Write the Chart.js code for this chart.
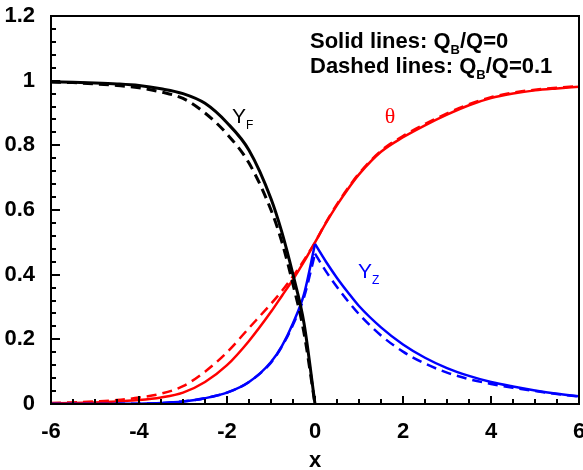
<!DOCTYPE html>
<html>
<head>
<meta charset="utf-8">
<script src="https://cdn.jsdelivr.net/npm/chart.js@4.4.0/dist/chart.umd.min.js"></script>
<style>
  body { margin: 0; background: #fff; }
</style>
</head>
<body>
<canvas id="myChart" width="583" height="470"></canvas>
<script>
// x positions of the sampled points
const xs = [-6, -5.5, -5, -4.5, -4, -3.5, -3, -2.5, -2, -1.5, -1, -0.75, -0.5, -0.25, 0,
  0.25, 0.5, 0.75, 1, 1.5, 2, 2.5, 3, 3.5, 4, 4.5, 5, 5.5, 6];
// index of x = 0 (Y_F stops there, Y_Z has its peak there)
const iZero = 14;

const yfSolid = [0.997, 0.995, 0.993, 0.99, 0.985, 0.975, 0.96, 0.93, 0.87, 0.785, 0.635, 0.53, 0.4, 0.25, 0];
const yfDashed = [0.996, 0.994, 0.99, 0.985, 0.978, 0.965, 0.945, 0.9, 0.835, 0.745, 0.6, 0.5, 0.37, 0.22, 0];

const thetaSolid = [0.002, 0.003, 0.005, 0.008, 0.012, 0.02, 0.035, 0.068, 0.12, 0.195, 0.285, 0.335, 0.385, 0.44, 0.5,
  0.56, 0.615, 0.665, 0.71, 0.78, 0.825, 0.862, 0.895, 0.924, 0.946, 0.96, 0.97, 0.976, 0.981];
const thetaDashed = [0.003, 0.005, 0.008, 0.012, 0.02, 0.032, 0.055, 0.1, 0.16, 0.235, 0.31, 0.35, 0.395, 0.445, 0.5,
  0.562, 0.618, 0.668, 0.713, 0.783, 0.829, 0.866, 0.899, 0.927, 0.949, 0.963, 0.972, 0.978, 0.983];

const yzSolid = [0, 0, 0, 0.0005, 0.001, 0.003, 0.008, 0.018, 0.035, 0.068, 0.13, 0.18, 0.25, 0.34, 0.495,
  0.44, 0.39, 0.345, 0.303, 0.237, 0.184, 0.143, 0.111, 0.087, 0.068, 0.054, 0.042, 0.032, 0.024];
const yzDashed = [0, 0, 0, 0.0005, 0.001, 0.003, 0.008, 0.018, 0.035, 0.068, 0.128, 0.178, 0.245, 0.33, 0.465,
  0.41, 0.362, 0.318, 0.278, 0.212, 0.162, 0.125, 0.097, 0.077, 0.062, 0.05, 0.04, 0.031, 0.023];

const xTicks = [-6, -4, -2, 0, 2, 4, 6];
const yTicks = [0, 0.2, 0.4, 0.6, 0.8, 1, 1.2];

function pts(xv, yv) {
  return xv.map((v, i) => ({ x: v, y: yv[i] }));
}

function line(data, color, dashed, width) {
  return {
    data: data,
    borderColor: color,
    borderWidth: width,
    borderDash: dashed ? [10, 6] : [],
    pointRadius: 0,
    fill: false,
    cubicInterpolationMode: "monotone",
  };
}

// text with a subscript part, e.g. Q_B
function drawParts(ctx, parts, x, y, big, small, family, weight, color) {
  ctx.fillStyle = color;
  ctx.textBaseline = "alphabetic";
  ctx.textAlign = "left";
  let cx = x;
  parts.forEach(function (p) {
    const sub = p[1];
    ctx.font = weight + " " + (sub ? small : big) + "px " + family;
    ctx.fillText(p[0], cx, y + (sub ? 6 : 0));
    cx += ctx.measureText(p[0]).width;
  });
}

const frameAndLabels = {
  id: "frameAndLabels",
  afterDraw(chart) {
    const ctx = chart.ctx;
    const a = chart.chartArea;
    const sx = chart.scales.x;
    const sy = chart.scales.y;
    ctx.save();
    ctx.setLineDash([]);

    // frame
    ctx.strokeStyle = "#000";
    ctx.lineWidth = 2;
    ctx.strokeRect(a.left, a.top, a.right - a.left, a.bottom - a.top);

    // inward ticks (minor every 0.5 on x, every 0.04 on y)
    ctx.fillStyle = "#000";
    for (let i = 0; i <= 24; i++) {
      const px = Math.round(sx.getPixelForValue(-6 + i * 0.5));
      const len = i % 4 === 0 ? 8 : 5;
      ctx.fillRect(px - 1, a.bottom - len, 2, len);
    }
    for (let i = 0; i <= 30; i++) {
      const py = Math.round(sy.getPixelForValue(i * 0.04));
      const len = i % 5 === 0 ? 9 : 5;
      ctx.fillRect(a.left, py - 1, len, 2);
    }

    // curve labels
    drawParts(ctx, [["Y", 0], ["F", 1]], sx.getPixelForValue(-1.886), sy.getPixelForValue(0.869),
      21, 12, "Liberation Sans", "normal", "#000");
    ctx.font = "22px 'Liberation Serif'";
    ctx.fillStyle = "#ff0000";
    ctx.textAlign = "center";
    ctx.fillText("\u03b8", sx.getPixelForValue(1.705), sy.getPixelForValue(0.869));
    drawParts(ctx, [["Y", 0], ["Z", 1]], sx.getPixelForValue(0.977), sy.getPixelForValue(0.39),
      21, 12, "Liberation Sans", "normal", "#0000ff");

    // note
    drawParts(ctx, [["Solid lines: Q", 0], ["B", 1], ["/Q=0", 0]], a.left + 259, a.top + 32,
      22, 13, "Liberation Sans", "bold", "#000");
    drawParts(ctx, [["Dashed lines: Q", 0], ["B", 1], ["/Q=0.1", 0]], a.left + 259, a.top + 57,
      22, 13, "Liberation Sans", "bold", "#000");

    ctx.restore();
  },
};

const tickFont = { family: "Liberation Sans", size: 22, weight: "bold" };

const ctx = document.getElementById("myChart").getContext("2d");

const myChart = new Chart(ctx, {
  type: "line",
  data: {
    datasets: [
      line(pts(xs.slice(0, iZero + 1), yfSolid), "#000000", false, 3),
      line(pts(xs.slice(0, iZero + 1), yfDashed), "#000000", true, 3),
      // Y_Z split at the peak so the cusp stays sharp
      line(pts(xs.slice(0, iZero + 1), yzSolid.slice(0, iZero + 1)), "#0000ff", false, 2.5),
      line(pts(xs.slice(iZero), yzSolid.slice(iZero)), "#0000ff", false, 2.5),
      line(pts(xs.slice(0, iZero + 1), yzDashed.slice(0, iZero + 1)), "#0000ff", true, 2.5),
      line(pts(xs.slice(iZero), yzDashed.slice(iZero)), "#0000ff", true, 2.5),
      line(pts(xs, thetaSolid), "#ff0000", false, 2.5),
      line(pts(xs, thetaDashed), "#ff0000", true, 2.5),
    ],
  },
  options: {
    responsive: false,
    animation: false,
    devicePixelRatio: 1,
    layout: { padding: { top: 16, right: 4, bottom: 0, left: 0 } },
    plugins: {
      legend: { display: false },
      tooltip: { enabled: false },
    },
    scales: {
      x: {
        type: "linear",
        min: -6,
        max: 6,
        grid: { display: false },
        border: { display: false },
        afterBuildTicks: (scale) => {
          scale.ticks = xTicks.map((v) => ({ value: v }));
        },
        afterFit: (scale) => {
          scale.height = 66;
          scale.paddingLeft = 0;
          scale.paddingRight = 0;
        },
        ticks: {
          font: tickFont,
          color: "#000",
          padding: 7,
          autoSkip: false,
          maxRotation: 0,
          callback: (v) => String(v),
        },
        title: {
          display: true,
          text: "x",
          color: "#000",
          font: { family: "Liberation Sans", size: 22, weight: "bold", lineHeight: 1 },
          padding: { top: 0, bottom: -2 },
        },
      },
      y: {
        min: 0,
        max: 1.2,
        grid: { display: false },
        border: { display: false },
        afterBuildTicks: (scale) => {
          scale.ticks = yTicks.map((v) => ({ value: v }));
        },
        afterFit: (scale) => {
          scale.width = 51;
          scale.paddingTop = 0;
          scale.paddingBottom = 0;
        },
        ticks: {
          font: tickFont,
          color: "#000",
          padding: 8,
          callback: (v) => String(v),
        },
      },
    },
  },
  plugins: [frameAndLabels],
});
</script>
</body>
</html>
